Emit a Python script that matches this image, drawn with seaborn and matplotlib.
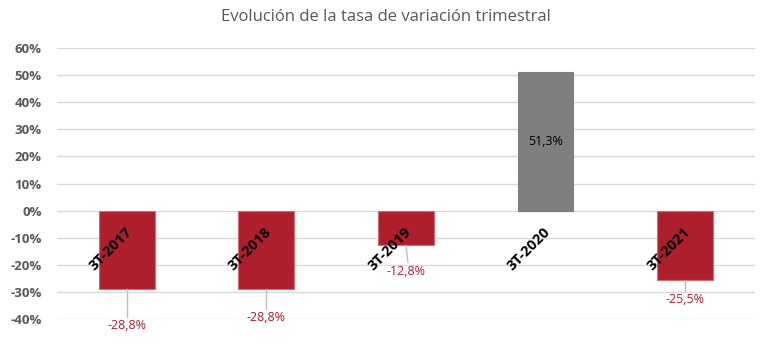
import matplotlib
matplotlib.use("Agg")
import matplotlib.pyplot as plt
import seaborn as sns
import pandas as pd

categories = ["3T-2017", "3T-2018", "3T-2019", "3T-2020", "3T-2021"]
values = [-28.8, -28.8, -12.8, 51.3, -25.5]
value_labels = ["-28,8%", "-28,8%", "-12,8%", "51,3%", "-25,5%"]
label_y = [-42.4, -39.5, -22.5, 25.6, -32.8]
yticks = [-40, -30, -20, -10, 0, 10, 20, 30, 40, 50, 60]

RED = "#ae1f2e"
GRAY = "#7f7f7f"
colors = [GRAY if v > 0 else RED for v in values]

sns.set_theme(style="white")
plt.rcParams["font.family"] = ["Open Sans", "DejaVu Sans"]

df = pd.DataFrame({"cat": categories, "val": values})

fig = plt.figure(figsize=(7.72, 3.48), dpi=100)
ax = fig.add_axes([0.0738, 0.083, 0.904, 0.779])
sns.barplot(data=df, x="cat", y="val", hue="cat", palette=colors, width=0.4,
            legend=False, ax=ax, linewidth=0.8, edgecolor=None, saturation=1)
for p, c in zip(ax.patches, colors):
    p.set_edgecolor("#d46a76" if c == RED else GRAY)

ax.set_ylim(-40, 60)
ax.set_xlim(-0.5, 4.5)
ax.set_yticks(yticks)
ax.set_yticklabels([f"{t}%" for t in yticks], color="#595959", fontsize=9.5, fontweight="bold")
ax.yaxis.grid(True, color="#d9d9d9", linewidth=1)
ax.set_axisbelow(True)
ax.tick_params(axis="y", length=0, pad=11)
ax.set_xticks([])
ax.set_xlabel("")
ax.set_ylabel("")
for s in ax.spines.values():
    s.set_visible(False)

# category labels at the zero line
for i, cat in enumerate(categories):
    ax.text(i + 0.02, -7, cat, rotation=45, rotation_mode="anchor",
            ha="right", va="center", fontsize=10.5, fontweight="bold", color="black")

# value labels
for i, (v, lab, ly) in enumerate(zip(values, value_labels, label_y)):
    if v > 0:
        ax.text(i, ly, lab, ha="center", va="center", fontsize=9, color="black")
    else:
        ax.text(i, ly, lab, ha="center", va="center", fontsize=9, color=RED)
        top = ly + 3.3
        if top < v:
            ax.plot([i, i + (0.015 if i == 2 else 0)], [v, top], color="#bfbfbf", linewidth=1)

fig.suptitle("Evolución de la tasa de variación trimestral", y=0.975,
             fontsize=12, color="#595959")

fig.savefig("out.png", dpi=100)
